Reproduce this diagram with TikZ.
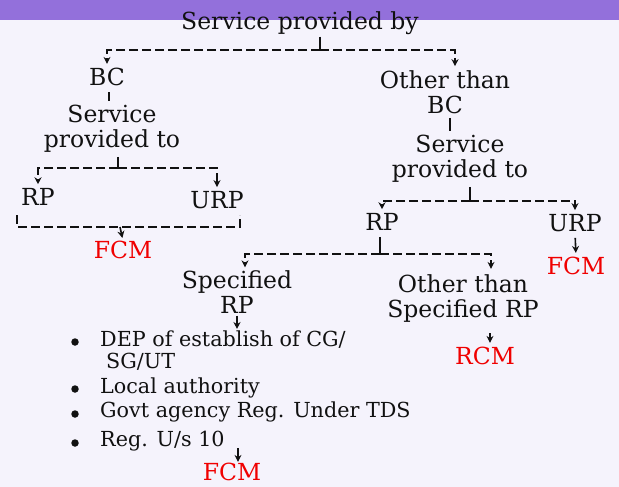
\documentclass[tikz,border=0pt]{standalone}
\usepackage{fontspec}
\setmainfont{DejaVu Serif}
\usetikzlibrary{arrows.meta}
\definecolor{pagebg}{RGB}{245,243,252}
\definecolor{topbar}{RGB}{147,112,219}
\definecolor{fcmred}{RGB}{240,0,0}
\definecolor{inkblack}{RGB}{17,17,17}

\begin{document}
\begin{tikzpicture}[x=1pt,y=-1pt,>={Stealth[length=7pt,width=7pt]},
  every node/.style={inner sep=0pt,align=center,text=inkblack,font=\fontsize{23.5}{25}\selectfont},
  listtext/.style={anchor=west,font=\fontsize{20.7}{24}\selectfont},
  result/.style={text=fcmred},
  dot/.style={circle,fill=inkblack,minimum size=7.5pt,inner sep=0pt},
  tick/.style={line width=1.6pt,inkblack},
  bar/.style={line width=1.6pt,inkblack,dash pattern=on 9pt off 4pt},
  arr/.style={->,line width=1.6pt,inkblack}]
\fill[pagebg] (0,0) rectangle (619,487);
\fill[topbar] (0,0) rectangle (619,20);
\useasboundingbox (0,0) rectangle (619,487);

% left branch
\node (by) at (300,23) {Service provided by};
\node (bc) at (107,77) {BC};
\node (toL) at (112,129) {Service\\provided to};
\node (rpL) at (38,197) {RP};
\node (urpL) at (217,200) {URP};
\node[result] (fcmL) at (123,250) {FCM};

% right branch
\node (obc) at (445,92) {Other than\\BC};
\node (toR) at (460,159) {Service\\provided to};
\node (rpR) at (382,222) {RP};
\node (urpR) at (575,223) {URP};
\node[result] (fcmR) at (576,266) {FCM};
\node (spec) at (237,292) {Specified\\RP};
\node (ospec) at (463,299) {Other than\\Specified RP};
\node[result] (rcm) at (485,356) {RCM};

% list under specified RP
\node[dot] (d1) at (75,342) {};
\node[dot] (d2) at (75,389) {};
\node[dot] (d3) at (75,414) {};
\node[dot] (d4) at (75,443) {};
\node[listtext] (l1) at (100,340) {DEP of establish of CG/};
\node[listtext] (l1b) at (106,362) {SG/UT};
\node[listtext] (l2) at (100,388) {Local authority};
\node[listtext] (l3) at (100,412) {Govt agency Reg. Under TDS};
\node[listtext] (l4) at (100,441) {Reg. U/s 10};
\node[result] (fcmB) at (232,472) {FCM};

% joints
\coordinate (j1) at (320,50);
\coordinate (j2) at (118,168);
\coordinate (j3) at (120,227);
\coordinate (k1) at (17,215);
\coordinate (k2) at (240,215);
\coordinate (j4) at (470,201);
\coordinate (j5) at (380,254);

\draw[tick] ([yshift=-2pt]by.south -| j1) -- (j1);
\draw[bar,->,shorten >=4pt] (j1) -| (bc.north);
\draw[bar,->,shorten >=4pt] (j1) -| ([xshift=10pt]obc.north);

\draw[tick,shorten <=6pt,shorten >=4pt] ([xshift=2pt]bc.south) -- ([xshift=2pt]bc.south |- toL.north);
\draw[tick] ([yshift=-4pt]toL.south -| j2) -- (j2);
\draw[bar,->,shorten >=4pt] (j2) -| (rpL.north);
\draw[bar,->,shorten >=4pt] (j2) -| (urpL.north);
\draw[bar] (k1) |- (j3) -| (k2);
\draw[arr,shorten >=3pt] (j3) -- (fcmL.north);

\draw[tick,shorten <=4pt,shorten >=4pt] ([xshift=5pt]obc.south) -- ([xshift=5pt]obc.south |- toR.north);
\draw[tick] ([yshift=-4pt]toR.south -| j4) -- (j4);
\draw[bar,->,shorten >=4pt] (j4) -| (rpR.north);
\draw[bar,->,shorten >=4pt] (j4) -| (urpR.north);
\draw[arr,shorten <=6pt,shorten >=4pt] (urpR.south) -- (fcmR.north);

\draw[tick] ([yshift=-6pt]rpR.south -| j5) -- (j5);
\draw[bar,->,shorten >=3pt] (j5) -| ([xshift=8pt]spec.north);
\draw[bar,->,shorten >=6pt] (j5) -| ([xshift=28pt]ospec.north);
\draw[arr,shorten <=2pt,shorten >=2pt] (spec.south) -- (spec.south |- l1.north);
\draw[arr,shorten <=10pt,shorten >=4pt] ([xshift=5pt]ospec.south -| rcm) -- ([xshift=5pt]rcm.north);
\draw[arr,shorten >=1pt] ([xshift=6pt,yshift=3pt]l4.south -| fcmB) -- ([xshift=6pt]fcmB.north);
\end{tikzpicture}
\end{document}
